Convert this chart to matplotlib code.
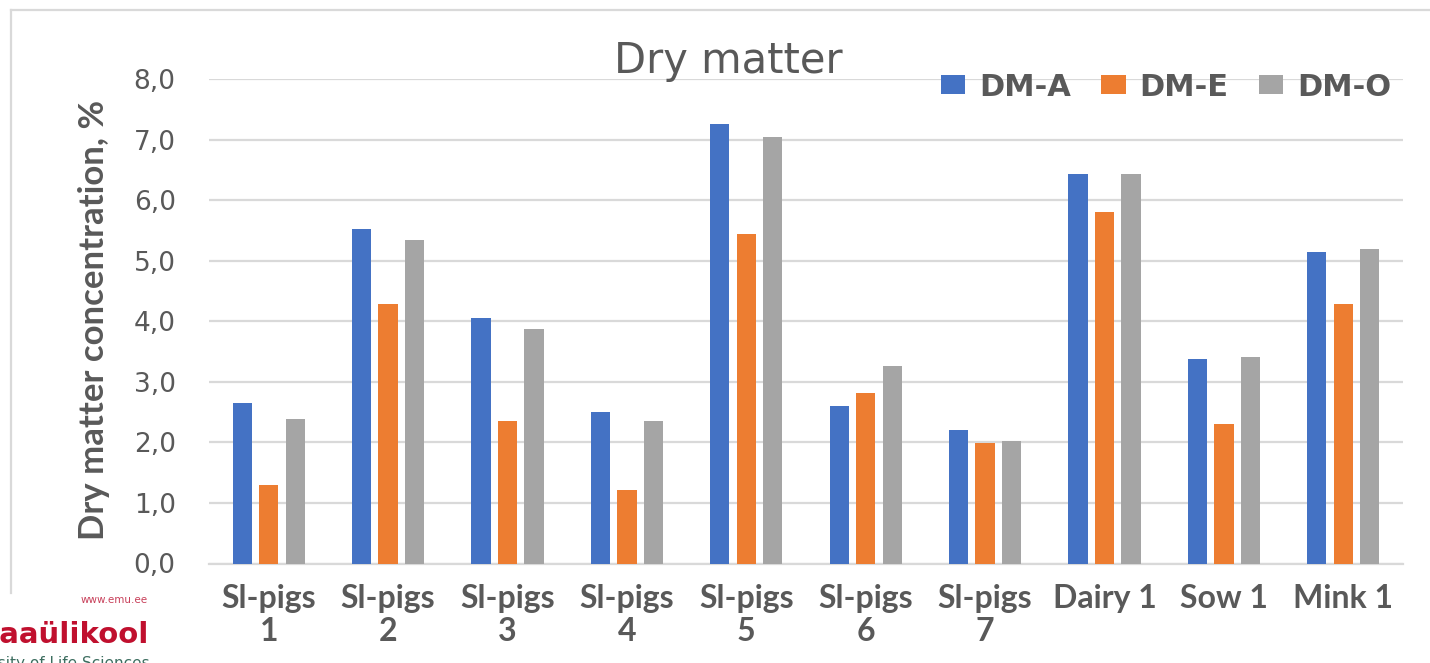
import numpy as np
import matplotlib
matplotlib.use("Agg")
import matplotlib.pyplot as plt
from matplotlib.patches import Patch
from matplotlib.lines import Line2D

categories = ["Sl-pigs\n1", "Sl-pigs\n2", "Sl-pigs\n3", "Sl-pigs\n4", "Sl-pigs\n5",
              "Sl-pigs\n6", "Sl-pigs\n7", "Dairy 1", "Sow 1", "Mink 1"]
dm_a = [2.66, 5.53, 4.05, 2.51, 7.26, 2.60, 2.20, 6.44, 3.38, 5.14]
dm_e = [1.29, 4.29, 2.36, 1.21, 5.44, 2.81, 1.99, 5.81, 2.30, 4.29]
dm_o = [2.39, 5.35, 3.87, 2.36, 7.05, 3.26, 2.02, 6.44, 3.42, 5.20]
series_names = ["DM-A", "DM-E", "DM-O"]
colors = ["#4472C4", "#ED7D31", "#A5A5A5"]
yticks = [0, 1, 2, 3, 4, 5, 6, 7, 8]

TXT = "#595959"
GRID = "#d9d9d9"

# narrower bold font for the axis labels (Calibri-like look)
narrow = dict(family=["Lato", "DejaVu Sans"], weight="bold")

W, H = 1430, 663
fig = plt.figure(figsize=(W / 100, H / 100), dpi=100)
ax = fig.add_axes([209 / W, 1 - 563.5 / H, (1403 - 209) / W, (563.5 - 79.3) / H])

x = np.arange(len(categories))
pitch = 0.222
width = 0.162
for i, (vals, c) in enumerate(zip([dm_a, dm_e, dm_o], colors)):
    ax.bar(x + (i - 1) * pitch, vals, width, color=c, zorder=3)

ax.set_xlim(-0.5, len(categories) - 0.5)
ax.set_ylim(0, 8)
ax.set_yticks(yticks)
ax.set_yticklabels([f"{v:.1f}".replace(".", ",") for v in yticks],
                   fontsize=19, color=TXT)
ax.yaxis.grid(True, color=GRID, linewidth=1.6, zorder=0)
ax.set_axisbelow(True)
for s in ["top", "right", "left"]:
    ax.spines[s].set_visible(False)
ax.spines["bottom"].set_color(GRID)
ax.spines["bottom"].set_linewidth(1.6)
ax.tick_params(axis="y", length=0, pad=24)
ax.tick_params(axis="x", length=0, pad=15)
ax.set_xticks(x)
ax.set_xticklabels(categories, fontsize=23, color=TXT, linespacing=1.15, **narrow)

fig.text(94 / W, 1 - 320 / H, "Dry matter concentration, %", rotation=90,
         ha="center", va="center", fontsize=25, color=TXT, **narrow)

fig.text(728 / W, 1 - 73 / H, "Dry matter", ha="center", va="baseline",
         fontsize=30, color=TXT)

handles = [Patch(facecolor=c, edgecolor="none") for c in colors]
leg = fig.legend(handles, series_names, loc="center", ncol=3,
                 bbox_to_anchor=(1166 / W, 1 - 87 / H), frameon=False,
                 prop=dict(size=22, weight="bold"), handlelength=0.8,
                 handleheight=0.56, handletextpad=0.45, columnspacing=1.0)
for t in leg.get_texts():
    t.set_color(TXT)

# chart area border (cropped in the original)
fig.add_artist(Line2D([10.5 / W, 1], [1 - 10 / H, 1 - 10 / H], color=GRID, lw=1.6))
fig.add_artist(Line2D([10.5 / W, 10.5 / W], [1 - 10 / H, 1 - 593 / H], color=GRID, lw=1.6))

# university logo, partly cut off at the edge as in the source
fig.text(148 / W, 1 - 600 / H, "www.emu.ee", ha="right", va="center",
         fontsize=7.5, color="#c8405a")
fig.text(148 / W, 1 - 643 / H, "eesti maaülikool", ha="right", va="baseline",
         fontsize=21, weight="bold", color="#c0102e")
fig.text(150 / W, 1 - 668 / H, "Estonian University of Life Sciences", ha="right",
         va="baseline", fontsize=11, color="#3d6e60")

fig.savefig("out.png", dpi=100)
